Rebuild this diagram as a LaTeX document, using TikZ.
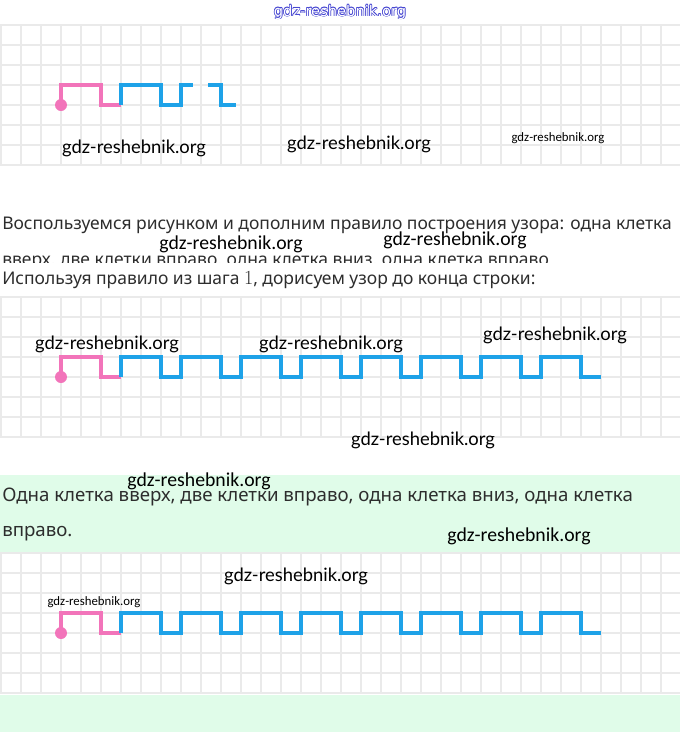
\documentclass[tikz,border=0pt]{standalone}
\usepackage{fontspec}
\setmainfont{Noto Sans}
\newfontfamily\latofont{Lato}
\newfontfamily\carlfont{Carlito}
\newfontfamily\topfont{DejaVu Sans}
\newfontfamily\lmfont{Latin Modern Roman}
\usetikzlibrary{positioning}
\definecolor{cPink}{RGB}{242,116,186}
\definecolor{cBlue}{RGB}{30,162,232}
\definecolor{cGrid}{RGB}{234,234,234}
\definecolor{cGreen}{RGB}{224,252,233}
\definecolor{cText}{RGB}{45,45,45}
\definecolor{cMark}{RGB}{70,70,210}

\begin{document}
\begin{tikzpicture}[
  x=0.75pt, y=-0.75pt,
  gridline/.style = {draw=cGrid, line width=0.8pt},
  pinkline/.style = {draw=cPink, line width=3pt},
  blueline/.style = {draw=cBlue, line width=3pt},
  body/.style     = {font=\fontsize{13.1}{15}\selectfont, text=cText,
                     anchor=base west, inner sep=0pt},
  greenbody/.style= {body, font=\fontsize{14}{16}\selectfont},
  wm/.style       = {font=\fontsize{13.8}{14}\latofont, text=black, inner sep=0pt},
  wmc/.style      = {font=\fontsize{14.8}{15}\carlfont, text=black, inner sep=0pt},
  wms/.style      = {font=\fontsize{9.6}{10}\carlfont, text=black, inner sep=0pt},
  topmark/.style  = {font=\fontsize{11}{12}\topfont, inner sep=0pt}
]
\useasboundingbox (0,0) rectangle (680,732);
\fill[white] (0,0) rectangle (680,732);

% ---------------------------------------------------------------- zeleno --
\fill[cGreen] (0,475) rectangle (680,553);
\fill[cGreen] (0,695) rectangle (680,732);

% ---------------------------------------------------------------- kletki --
\foreach \gy in {25,297,553} {
  \foreach \k in {0,...,7}
    \draw[gridline] (0,\gy+20*\k) -- (680,\gy+20*\k);
  \foreach \k in {0,...,33}
    \draw[gridline] (20*\k+1,\gy) -- (20*\k+1,\gy+140);
}

% --------------------------------------------------- uzor s propuskami --
\draw[pinkline] (61,105) -- ++(0,-20) -- ++(40,0) -- ++(0,20) -- ++(20,0);
\draw[blueline] (121,105) -- ++(0,-20) -- ++(40,0) -- ++(0,20) -- ++(20,0)
  -- ++(0,-20) -- ++(12,0);
\draw[blueline] (208,85) -- (221,85) -- (221,105) -- (236,105);
\fill[cPink] (61,105) circle[radius=6];

% ------------------------------------------------ uzor do konca stroki --
\foreach \b in {377,633} {
  \draw[pinkline] (61,\b) -- ++(0,-20) -- ++(40,0) -- ++(0,20) -- ++(20,0);
  \draw[blueline] (121,\b) foreach \k in {0,...,7} {
    -- ++(0,-20) -- ++(40,0) -- ++(0,20) -- ++(20,0) };
  \fill[cPink] (61,\b) circle[radius=6];
}

% ----------------------------------------------------------------- tekst --
\node[body] (t1) at (2,229)
  {Воспользуемся рисунком и дополним правило построения узора: одна клетка};
\begin{scope}
  \clip (0,240) rectangle (680,262);
  \node[body] (t2) at (2,265)
    {вверх, две клетки вправо, \textbf{одна клетка вниз}, одна клетка вправо};
\end{scope}
\node[body] (t3) at (2,284)
  {Используя правило из шага {\lmfont\fontsize{15}{15}\selectfont 1}, дорисуем узор до конца строки:};
\node[greenbody] (g1) at (2,501)
  {Одна клетка вверх, две клетки вправо, одна клетка вниз, одна клетка};
\node[greenbody] (g2) at (2,536) {вправо.};

% ------------------------------------------------------------ vodyanye --
\foreach \dx/\dy [count=\i] in {0.7/0,-0.7/0,0/0.7,0/-0.7,0.5/0.5,-0.5/0.5,0.5/-0.5,-0.5/-0.5}
  \node[topmark, text=cMark] (wo\i) at (340+\dx,12+\dy) {gdz-reshebnik.org};
\node[topmark, text=white] (w0) at (340,12) {gdz-reshebnik.org};

\node[wm]  (w1)  at (134,148) {gdz-reshebnik.org};
\node[wm]  (w2)  at (359,144) {gdz-reshebnik.org};
\node[wms] (w3)  at (558,138) {gdz-reshebnik.org};
\node[wmc] (w4)  at (231,244) {gdz-reshebnik.org};
\node[wmc] (w5)  at (455,240) {gdz-reshebnik.org};
\node[wm]  (w6)  at (107,344) {gdz-reshebnik.org};
\node[wm]  (w7)  at (331,344) {gdz-reshebnik.org};
\node[wm]  (w8)  at (555,335) {gdz-reshebnik.org};
\node[wm]  (w9)  at (423,440) {gdz-reshebnik.org};
\node[wmc] (w10) at (199,481) {gdz-reshebnik.org};
\node[wmc] (w11) at (519,536) {gdz-reshebnik.org};
\node[wm]  (w12) at (296,576) {gdz-reshebnik.org};
\node[wms] (w13) at (94,602)  {gdz-reshebnik.org};

\end{tikzpicture}
\end{document}
